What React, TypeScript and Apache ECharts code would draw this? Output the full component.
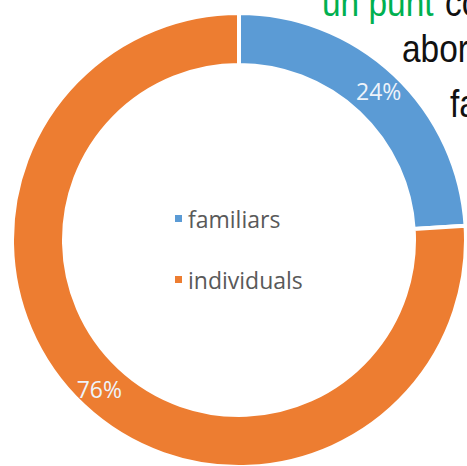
import React, { useEffect, useRef } from "react";
import * as echarts from "echarts";

const categories = ["familiars", "individuals"];
const values = [24, 76];
const colors = ["#5B9BD5", "#ED7D31"];

export default function App() {
  const ref = useRef<HTMLDivElement>(null);
  useEffect(() => {
    if (!ref.current) return;
    const chart = echarts.init(ref.current, null, { renderer: "svg" });
    const font = "38px 'Liberation Sans', Arial, sans-serif";
    const txt = (text: string, x: number, y: number, fill: string) => ({
      type: "text",
      x,
      y,
      scaleX: 0.88,
      style: { text, x: 0, y: 0, font, fill, verticalAlign: "middle", align: "left" },
    });
    chart.setOption({
      animation: false,
      backgroundColor: "#ffffff",
      legend: {
        orient: "vertical",
        left: 168,
        top: 202,
        icon: "rect",
        itemWidth: 9,
        itemHeight: 9,
        itemGap: 38,
        data: categories,
        textStyle: { fontSize: 23, color: "#595959", fontFamily: "'Open Sans', sans-serif" },
      },
      graphic: [
        txt("un punt", 322, 3, "#00B050"),
        txt("co", 445, 3, "#111111"),
        txt("abor", 402, 49, "#111111"),
        txt("fa", 450, 104, "#111111"),
      ],
      series: [
        {
          type: "pie",
          center: [239, 240],
          radius: [175, 227],
          startAngle: 90,
          clockwise: true,
          avoidLabelOverlap: false,
          itemStyle: { borderColor: "#ffffff", borderWidth: 4 },
          label: {
            show: true,
            position: "inside",
            formatter: (p: any) => `${p.value}%`,
            color: "#EEF3FA",
            fontSize: 23,
            fontFamily: "'Open Sans', sans-serif",
          },
          labelLine: { show: false },
          emphasis: { disabled: true },
          data: categories.map((c, i) => ({ name: c, value: values[i], itemStyle: { color: colors[i] } })),
        },
      ],
    });
    return () => chart.dispose();
  }, []);
  return (
    <div
      ref={ref}
      style={{ position: "absolute", left: 0, top: 0, width: 467, height: 466 }}
    />
  );
}
